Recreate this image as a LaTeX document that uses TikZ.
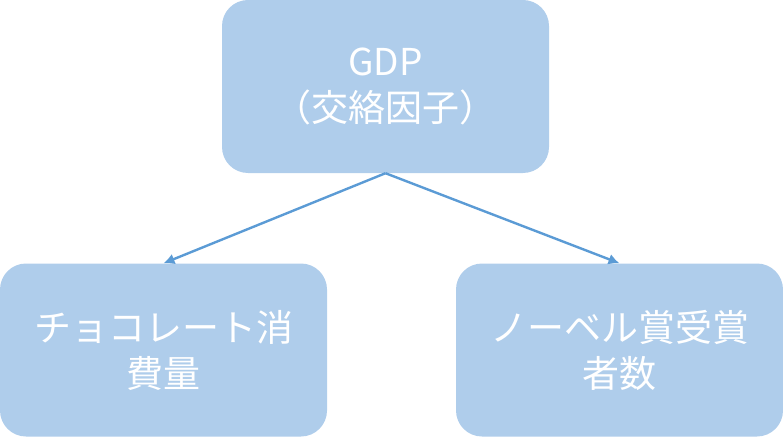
\documentclass[tikz,border=0pt]{standalone}
\usepackage{fontspec}
\setmainfont{Noto Sans CJK JP}
\usetikzlibrary{arrows.meta}
\definecolor{boxblue}{HTML}{AFCDEB}
\definecolor{linkblue}{HTML}{5B9BD5}

\begin{document}
\begin{tikzpicture}[every node/.style = {shape=rectangle, rounded corners=26pt, fill=boxblue, align=center, text=white, minimum width=327pt, minimum height=173pt, font=\fontsize{37pt}{46pt}\selectfont},
    link/.style = {draw=linkblue, line width=2.4pt, -{Latex[length=11pt,width=11pt]}}]
    \useasboundingbox (0,0) rectangle (783pt,437pt);
    \node (gdp) at (385.5pt,350.5pt) {GDP\\（交絡因子）};
    \node (choco) at (163.5pt,87pt) {チョコレート消\\費量};
    \node (nobel) at (619.5pt,87pt) {ノーベル賞受賞\\者数};
    \draw[link] (gdp.south) -- (choco.north);
    \draw[link] (gdp.south) -- (nobel.north);
\end{tikzpicture}
\end{document}
